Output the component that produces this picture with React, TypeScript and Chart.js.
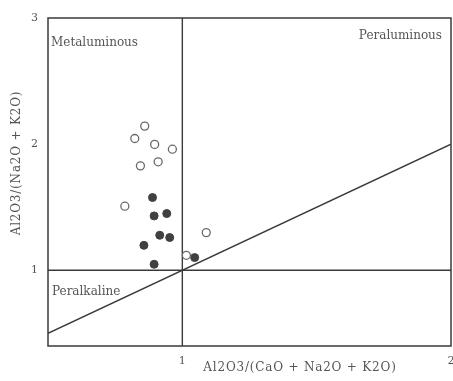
import React, { useEffect, useRef } from "react";
import { Chart, registerables } from "chart.js";

Chart.register(...registerables);

const openX = [0.86, 0.823, 0.897, 0.963, 0.91, 0.844, 0.786, 1.089, 1.015];
const openY = [2.143, 2.045, 1.998, 1.96, 1.86, 1.828, 1.508, 1.299, 1.119];
const filledX = [0.889, 0.895, 0.942, 0.916, 0.953, 0.857, 0.895, 1.046];
const filledY = [1.577, 1.431, 1.45, 1.278, 1.26, 1.198, 1.048, 1.101];
const xTicks = [1, 2];
const yTicks = [1, 2, 3];
const xRange = [0.5, 2];
const yRange = [0.4, 3];
const fieldLabels = ["Metaluminous", "Peraluminous", "Peralkaline"];
const xTitle = "Al2O3/(CaO + Na2O + K2O)";
const yTitle = "Al2O3/(Na2O + K2O)";

const FONT = "'DejaVu Serif', 'Liberation Serif', serif";

const decorPlugin = {
  id: "decor",
  beforeDatasetsDraw(chart: any) {
    const { ctx, chartArea: a } = chart;
    ctx.save();
    ctx.strokeStyle = "#3a3a3a";
    ctx.lineWidth = 1.5;
    ctx.strokeRect(a.left, a.top, a.right - a.left, a.bottom - a.top);
    ctx.restore();
  },
  afterDraw(chart: any) {
    const { ctx, chartArea: a } = chart;
    ctx.save();
    ctx.fillStyle = "#555";
    ctx.font = `12px ${FONT}`;
    ctx.textBaseline = "middle";
    ctx.textAlign = "left";
    ctx.fillText(fieldLabels[0], a.left + 3, a.top + 25);
    ctx.textAlign = "right";
    ctx.fillText(fieldLabels[1], a.right - 9, a.top + 18);
    ctx.textAlign = "left";
    ctx.fillText(fieldLabels[2], a.left + 4, a.top + 274);
    ctx.font = `12px ${FONT}`;
    (ctx as any).letterSpacing = "0.8px";
    ctx.textAlign = "center";
    ctx.fillText(xTitle, 300, a.bottom + 22);
    ctx.translate(17, 163);
    ctx.rotate(-Math.PI / 2);
    ctx.fillText(yTitle, 0, 0);
    ctx.restore();
  },
};

export default function App() {
  const ref = useRef<HTMLCanvasElement | null>(null);
  useEffect(() => {
    document.body.style.margin = "0";
    const canvas = ref.current!;
    const lineStyle = {
      type: "line" as const,
      showLine: true,
      pointRadius: 0,
      borderColor: "#3a3a3a",
      borderWidth: 1.4,
      fill: false,
    };
    const chart = new Chart(canvas, {
      type: "scatter",
      data: {
        datasets: [
          {
            label: "open",
            data: openX.map((x, i) => ({ x, y: openY[i] })),
            pointRadius: 4,
            pointBackgroundColor: "#fff",
            pointBorderColor: "#6a6a6a",
            pointBorderWidth: 1.3,
          },
          {
            label: "filled",
            data: filledX.map((x, i) => ({ x, y: filledY[i] })),
            pointRadius: 4,
            pointBackgroundColor: "#404040",
            pointBorderColor: "#404040",
            pointBorderWidth: 1,
          },
          { ...lineStyle, label: "v", data: [{ x: 1, y: yRange[0] }, { x: 1, y: yRange[1] }] },
          { ...lineStyle, label: "h", data: [{ x: xRange[0], y: 1 }, { x: xRange[1], y: 1 }] },
          { ...lineStyle, label: "d", data: [{ x: xRange[0], y: xRange[0] }, { x: xRange[1], y: xRange[1] }] },
        ] as any,
      },
      options: {
        animation: false,
        responsive: false,
        layout: { autoPadding: false, padding: { top: 18, right: 2, left: 0, bottom: 0 } },
        plugins: { legend: { display: false }, tooltip: { enabled: false } },
        scales: {
          x: {
            type: "linear",
            min: xRange[0],
            max: xRange[1],
            grid: { display: false, drawTicks: false },
            border: { display: false },
            ticks: { font: { family: FONT, size: 11 }, color: "#555", padding: 9 },
            afterBuildTicks: (s: any) => {
              s.ticks = xTicks.map((v) => ({ value: v }));
            },
            afterFit: (s: any) => {
              s.height = 35;
              s.paddingLeft = 0;
              s.paddingRight = 0;
            },
          },
          y: {
            type: "linear",
            min: yRange[0],
            max: yRange[1],
            grid: { display: false, drawTicks: false },
            border: { display: false },
            ticks: { font: { family: FONT, size: 11 }, color: "#555", padding: 10 },
            afterBuildTicks: (s: any) => {
              s.ticks = yTicks.map((v) => ({ value: v }));
            },
            afterFit: (s: any) => {
              s.width = 48;
              s.paddingTop = 0;
              s.paddingBottom = 0;
            },
          },
        },
      },
      plugins: [decorPlugin],
    });
    return () => chart.destroy();
  }, []);
  return <canvas ref={ref} width={453} height={381} style={{ display: "block" }} />;
}
